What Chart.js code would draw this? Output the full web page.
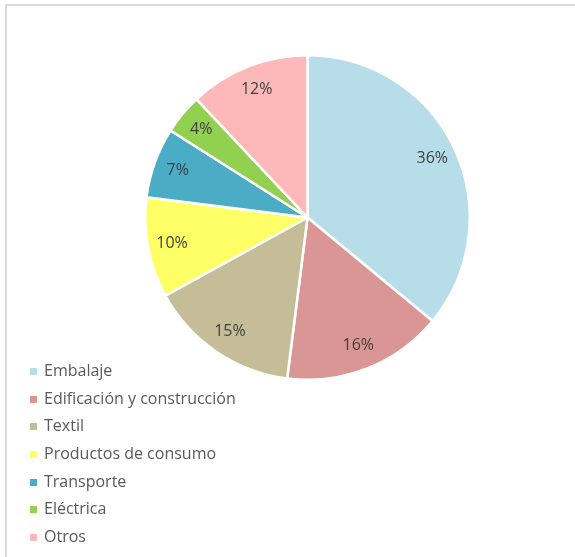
<!DOCTYPE html>
<html>
<head>
<meta charset="utf-8">
<script src="https://cdn.jsdelivr.net/npm/chart.js@4/dist/chart.umd.min.js"></script>
<style>
  html, body { margin: 0; padding: 0; background: #fff; }
  #wrap { position: relative; width: 575px; height: 557px; overflow: hidden; }
  #frame { position: absolute; left: 5px; top: 4px; right: -10px; bottom: -10px;
           border-top: 2px solid #d9d9d9; border-left: 2px solid #d9d9d9; }
  #pieChart { position: absolute; left: 0; top: 0; }
  #legend { position: absolute; left: 30px; top: 357px; margin: 0; padding: 0; list-style: none;
            font-family: "Open Sans", sans-serif; font-size: 16px; color: #595959; }
  #legend li { height: 27.7px; line-height: 27.7px; white-space: nowrap; }
  #legend span { display: inline-block; width: 7px; height: 7px; margin-right: 7px; vertical-align: 1px; }
</style>
</head>
<body>
<div id="wrap">
  <div id="frame"></div>
  <canvas id="pieChart" width="575" height="557"></canvas>
  <ul id="legend"></ul>
</div>
<script>
// Sectors and their share (%)
const categories = ['Embalaje', 'Edificación y construcción', 'Textil',
  'Productos de consumo', 'Transporte', 'Eléctrica', 'Otros'];
const shares = [36, 16, 15, 10, 7, 4, 12];
const colors = ['#b7dee8', '#da9694', '#c4bd97', '#ffff66', '#4bacc6', '#92d050', '#fdb9b9'];

// Percent labels placed inside each slice, like Excel's best fit
const sliceLabels = {
  id: 'sliceLabels',
  afterDatasetsDraw(chart) {
    const ctx = chart.ctx;
    const meta = chart.getDatasetMeta(0);
    ctx.save();
    ctx.font = '16px "Open Sans", sans-serif';
    ctx.fillStyle = '#404040';
    ctx.textAlign = 'center';
    ctx.textBaseline = 'middle';
    meta.data.forEach((arc, i) => {
      const mid = (arc.startAngle + arc.endAngle) / 2;
      const r = arc.outerRadius * 0.85;
      ctx.fillText(shares[i] + '%', arc.x + Math.cos(mid) * r, arc.y + Math.sin(mid) * r);
    });
    ctx.restore();
  }
};

const ctx = document.getElementById('pieChart').getContext('2d');
new Chart(ctx, {
  type: 'pie',
  data: {
    labels: categories,
    datasets: [{
      data: shares,
      backgroundColor: colors,
      borderColor: '#ffffff',
      borderWidth: 2.5
    }]
  },
  options: {
    responsive: false,
    animation: false,
    layout: { padding: { left: 144, right: 104, top: 54, bottom: 176 } },
    plugins: {
      legend: { display: false },
      tooltip: { enabled: false }
    }
  },
  plugins: [sliceLabels]
});

// Legend list
const legend = document.getElementById('legend');
categories.forEach((name, i) => {
  const li = document.createElement('li');
  const box = document.createElement('span');
  box.style.background = colors[i];
  li.appendChild(box);
  li.appendChild(document.createTextNode(name));
  legend.appendChild(li);
});
</script>
</body>
</html>
